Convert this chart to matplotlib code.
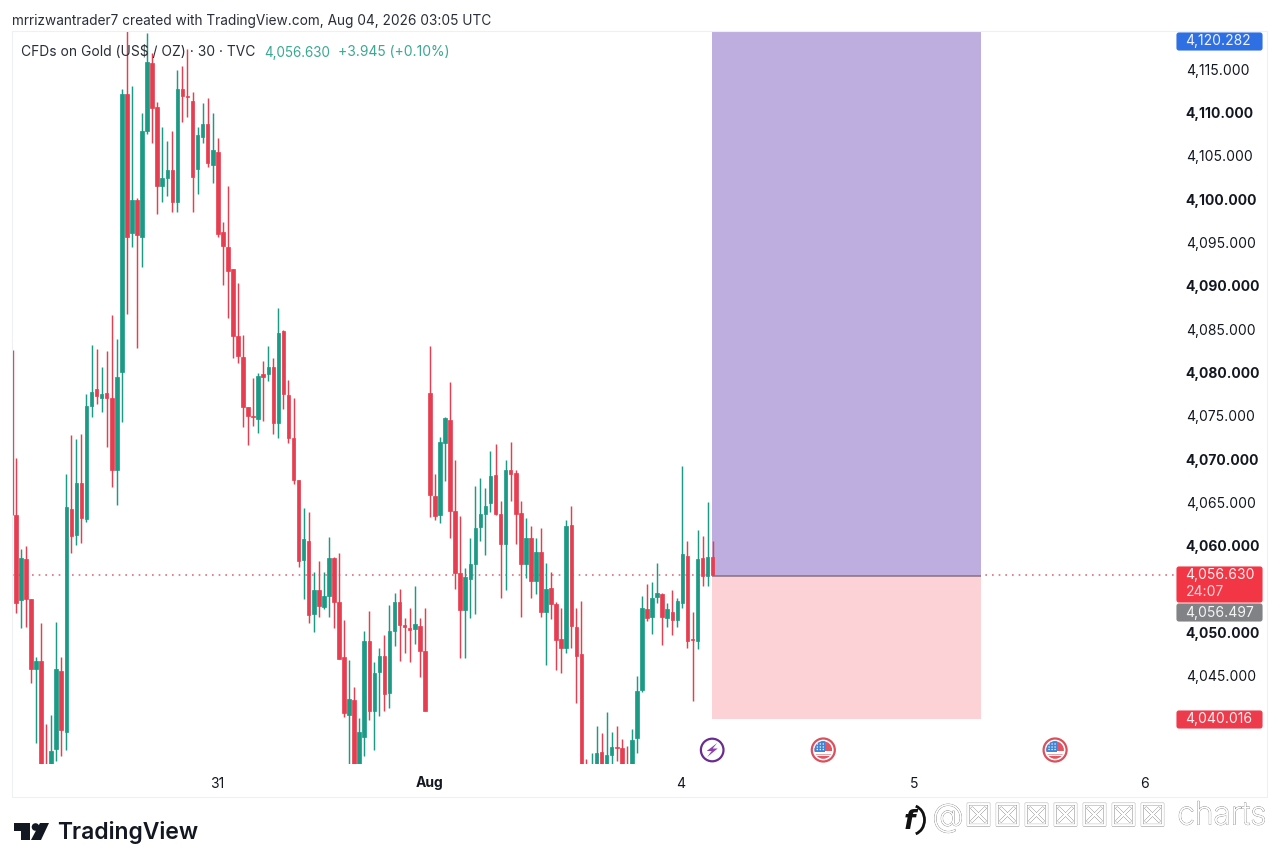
import matplotlib
matplotlib.use("Agg")
import matplotlib.pyplot as plt
import matplotlib.patheffects as pe
from matplotlib.patches import Circle, FancyBboxPatch, Polygon, Rectangle, Arc

# 30 minute candles, bar 0 is the first full bar on the left
opens = [4063.6, 4053.8, 4058.5, 4053.9, 4045.8, 4046.7, 4034.4, 4033.0, 4036.6, 4045.6,
         4038.5, 4064.3, 4061.3, 4067.3, 4063.1, 4076.1, 4078.1, 4077.1, 4077.6, 4077.1,
         4068.8, 4080.1, 4112.1, 4096.1, 4099.9, 4095.6, 4107.9, 4115.7, 4110.6, 4101.5,
         4102.4, 4103.4, 4099.7, 4112.7, 4111.9, 4111.3, 4103.5, 4107.2, 4108.7, 4103.9,
         4105.4, 4096.2, 4094.5, 4091.9, 4084.2, 4081.8, 4076.0, 4075.0, 4074.6, 4079.8,
         4079.8, 4080.6, 4074.2, 4084.8, 4077.4, 4072.4, 4067.6, 4058.4, 4060.6, 4052.1,
         4054.9, 4053.0, 4054.2, 4058.6, 4053.5, 4047.2, 4040.5, 4042.2, 4034.2, 4038.0,
         4049.0, 4041.0, 4045.5, 4047.3, 4043.0, 4050.2, 4053.5, 4050.9, 4050.5, 4050.4,
         4050.8, 4047.9, 4077.6, 4065.8, 4063.6, 4071.9, 4074.5, 4064.0, 4056.9, 4052.6,
         4056.2, 4057.9, 4062.2, 4063.7, 4064.9, 4068.2, 4063.7, 4060.2, 4068.8, 4068.4,
         4063.8, 4057.9, 4060.9, 4056.0, 4059.3, 4052.4, 4055.1, 4053.3, 4049.3, 4048.2,
         4062.4, 4050.6, 4047.5, 4034.4, 4033.0, 4034.2, 4036.2, 4034.2, 4035.9, 4036.8,
         4036.7, 4034.4, 4034.2, 4037.8, 4043.4, 4052.7, 4051.8, 4054.1, 4054.5, 4051.7,
         4052.4, 4051.5, 4053.4, 4058.8, 4049.3, 4049.0, 4058.6, 4056.5, 4058.7]
closes = [4053.4, 4058.6, 4053.9, 4045.8, 4046.7, 4033.6, 4033.0, 4036.3, 4045.8, 4038.8,
          4064.5, 4061.1, 4067.3, 4063.2, 4076.1, 4077.8, 4077.3, 4077.5, 4077.1, 4068.8,
          4079.5, 4112.1, 4095.6, 4099.9, 4095.9, 4107.9, 4115.8, 4110.5, 4101.5, 4102.4,
          4103.4, 4099.7, 4112.7, 4111.9, 4111.8, 4102.5, 4107.4, 4108.7, 4104.2, 4105.7,
          4096.0, 4094.6, 4091.7, 4084.2, 4081.9, 4076.0, 4075.0, 4074.9, 4079.6, 4079.5,
          4080.6, 4074.2, 4084.6, 4077.5, 4072.4, 4067.6, 4058.3, 4060.8, 4052.0, 4054.9,
          4053.1, 4054.2, 4058.6, 4053.5, 4047.0, 4040.7, 4042.3, 4034.2, 4038.5, 4049.0,
          4041.0, 4045.3, 4047.3, 4042.9, 4050.2, 4053.5, 4050.9, 4050.6, 4050.3, 4051.0,
          4047.9, 4041.0, 4065.9, 4063.5, 4072.0, 4074.8, 4064.0, 4056.9, 4052.6, 4056.4,
          4057.9, 4062.1, 4063.7, 4064.6, 4068.1, 4063.7, 4060.2, 4068.8, 4068.3, 4063.7,
          4057.9, 4060.9, 4056.0, 4059.3, 4052.4, 4055.0, 4053.3, 4049.1, 4048.2, 4062.3,
          4050.8, 4047.3, 4034.2, 4033.0, 4034.4, 4036.1, 4034.2, 4035.9, 4036.8, 4036.7,
          4034.2, 4033.0, 4037.6, 4043.3, 4052.8, 4051.7, 4054.0, 4054.6, 4051.8, 4052.7,
          4051.5, 4053.6, 4059.1, 4049.0, 4049.1, 4058.5, 4056.5, 4058.7, 4056.6]
highs = [4070.1, 4059.6, 4060.0, 4053.9, 4047.2, 4051.1, 4039.5, 4040.5, 4051.2, 4047.2,
         4068.3, 4072.8, 4072.3, 4072.9, 4077.5, 4083.2, 4082.7, 4080.6, 4082.5, 4086.6,
         4083.9, 4112.7, 4119.5, 4113.0, 4100.1, 4109.9, 4119.2, 4116.9, 4111.2, 4108.3,
         4106.7, 4107.9, 4114.9, 4115.4, 4117.3, 4112.4, 4108.3, 4111.1, 4111.7, 4109.9,
         4107.0, 4097.4, 4101.5, 4091.9, 4090.3, 4084.3, 4076.0, 4079.4, 4079.9, 4081.3,
         4083.1, 4081.7, 4087.4, 4084.9, 4079.1, 4077.1, 4067.6, 4064.4, 4063.9, 4057.0,
         4058.3, 4057.0, 4061.0, 4058.7, 4059.2, 4051.5, 4046.8, 4043.7, 4040.2, 4050.2,
         4052.5, 4046.6, 4048.2, 4049.7, 4053.2, 4054.6, 4055.0, 4051.7, 4052.8, 4055.4,
         4051.7, 4052.8, 4083.1, 4068.3, 4072.6, 4074.9, 4078.9, 4069.9, 4063.4, 4057.5,
         4060.9, 4066.9, 4067.8, 4066.7, 4070.9, 4071.8, 4065.2, 4069.9, 4072.0, 4068.8,
         4065.2, 4063.2, 4062.3, 4060.9, 4062.1, 4058.0, 4057.0, 4053.5, 4052.8, 4063.0,
         4064.6, 4052.8, 4053.6, 4035.4, 4036.1, 4039.2, 4038.4, 4040.8, 4038.5, 4039.2,
         4037.7, 4036.9, 4038.9, 4045.0, 4054.2, 4055.6, 4055.8, 4058.0, 4054.6, 4053.4,
         4054.9, 4054.0, 4069.2, 4060.6, 4052.4, 4061.8, 4061.1, 4065.1, 4060.6]
lows = [4052.3, 4050.5, 4050.6, 4044.2, 4037.3, 4033.6, 4033.0, 4033.0, 4035.2, 4035.8,
        4036.5, 4059.2, 4060.1, 4060.3, 4062.8, 4074.9, 4076.4, 4075.4, 4071.4, 4066.8,
        4064.7, 4074.3, 4086.7, 4094.5, 4082.8, 4092.2, 4107.5, 4106.5, 4098.3, 4099.7,
        4100.4, 4098.5, 4098.5, 4108.9, 4109.5, 4098.5, 4100.6, 4106.5, 4103.7, 4101.9,
        4095.6, 4090.1, 4086.3, 4081.7, 4081.1, 4073.7, 4071.6, 4073.8, 4073.0, 4074.4,
        4079.0, 4072.9, 4072.4, 4075.8, 4071.9, 4067.1, 4057.6, 4053.9, 4051.1, 4050.1,
        4051.8, 4052.7, 4051.8, 4050.5, 4047.0, 4040.3, 4034.2, 4034.2, 4034.2, 4035.8,
        4039.9, 4036.5, 4040.4, 4041.0, 4041.3, 4048.5, 4046.7, 4047.6, 4046.6, 4048.7,
        4044.9, 4041.0, 4063.3, 4063.0, 4062.6, 4067.5, 4060.9, 4055.0, 4047.1, 4047.1,
        4051.7, 4052.1, 4060.6, 4059.0, 4063.9, 4063.6, 4054.0, 4054.9, 4065.2, 4060.2,
        4051.8, 4056.3, 4054.0, 4054.5, 4051.8, 4046.3, 4051.6, 4045.7, 4045.3, 4047.6,
        4048.2, 4041.9, 4034.2, 4033.0, 4033.0, 4034.2, 4034.2, 4034.2, 4034.8, 4035.2,
        4034.2, 4033.0, 4034.2, 4036.1, 4043.1, 4051.3, 4049.8, 4053.4, 4048.6, 4050.6,
        4049.7, 4050.6, 4052.8, 4048.2, 4042.1, 4048.1, 4055.4, 4055.4, 4056.6]

# wick of a bar cut off by the left edge of the pane
cut_wick_bar = -0.55
cut_wick_high = 4082.6
cut_wick_low = 4063.6

# long position drawing
entry_price = 4056.497
target_price = 4120.282
stop_price = 4040.016
position_start = 137.9
position_end = 191.1

last_price = 4056.630

price_ticks = [4045, 4050, 4060, 4065, 4070, 4075, 4080, 4085, 4090, 4095, 4100, 4105, 4110, 4115]
date_ticks = [39.9, 82, 131.7, 177.8, 223.6]
date_labels = ["31", "Aug", "4", "5", "6"]
event_bars = [137.9, 159.9, 205.8]

green = "#1b9a85"
red = "#e63e50"
font = "Inter"

plt.rcParams["font.family"] = [font, "DejaVu Sans"]

fig = plt.figure(figsize=(12.8, 8.67), dpi=100, facecolor="white")
ax = fig.add_axes([12 / 1280, (867 - 764) / 867, (1176 - 12) / 1280, (764 - 32) / 867])
ax.set_xlim(-0.75, 229.74)
ax.set_ylim(4034.84, 4119.27)
ax.patch.set_alpha(0)
for s in ax.spines.values():
    s.set_visible(False)

# position tool
ax.axhline(last_price, color="#e0707e", lw=1.2, ls=(0, (1, 3)), zorder=1)
ax.add_patch(Rectangle((position_start, entry_price), position_end - position_start,
                       target_price - entry_price, color="#beaee0", lw=0, zorder=2))
ax.add_patch(Rectangle((position_start, stop_price), position_end - position_start,
                       entry_price - stop_price, color="#fdd2d6", lw=0, zorder=2))
ax.hlines(entry_price, position_start, position_end, color="#8b6f80", lw=1.1, zorder=3)

# candles
ax.vlines(cut_wick_bar, cut_wick_low, cut_wick_high, color=red, lw=1.0, zorder=4)
for i in range(len(opens)):
    col = green if closes[i] >= opens[i] else red
    ax.vlines(i, lows[i], highs[i], color=col, lw=1.05, zorder=4)
    ax.bar(i, abs(closes[i] - opens[i]), bottom=min(opens[i], closes[i]), width=0.7,
           color=col, edgecolor=col, lw=0.5, zorder=5)

# price scale
ax.yaxis.tick_right()
ax.set_yticks(price_ticks)
ax.set_yticklabels(["{:,.3f}".format(p) for p in price_ticks])
ax.tick_params(axis="y", length=0, pad=7, labelsize=10, labelcolor="#131722")
for p, lab in zip(price_ticks, ax.get_yticklabels()):
    if p % 10 == 0:
        lab.set_fontweight("bold")

# time scale
ax.set_xticks(date_ticks)
ax.set_xticklabels(date_labels)
ax.tick_params(axis="x", length=0, pad=9, labelsize=10, labelcolor="#131722")
ax.get_xticklabels()[1].set_fontweight("bold")

# overlay in picture pixels for tags, frame, icons and header
ov = fig.add_axes([0, 0, 1, 1], zorder=10)
ov.set_xlim(0, 1280)
ov.set_ylim(867, 0)
ov.axis("off")

ov.add_patch(Rectangle((12, 31), 1255, 766, fill=False, ec="#eef0f3", lw=0.8))


def tag(y0, y1, col, text, text_y=None, sub=None):
    ov.add_patch(FancyBboxPatch((1177, y0 + 1), 85, y1 - y0 - 2, boxstyle="round,pad=0,rounding_size=2",
                                fc=col, ec=col, lw=0.8, mutation_aspect=1))
    ov.text(1185.5, (y0 + y1) / 2 if text_y is None else text_y, text, color="white", fontsize=10,
            va="center", ha="left", alpha=0.92)
    if sub:
        ov.text(1185.5, sub[1], sub[0], color="#fbd5d8", fontsize=10, va="center", ha="left")


tag(32, 51, "#2f6fe4", "{:,.3f}".format(target_price))
tag(566, 603, "#f23645", "{:,.3f}".format(last_price), text_y=575.5, sub=("24:07", 592))
tag(603, 622, "#808285", "{:,.3f}".format(entry_price))
tag(710, 729, "#ee3b4c", "{:,.3f}".format(stop_price))

# header
ov.text(12, 21, "mrrizwantrader7 created with TradingView.com, Aug 04, 2026 03:05 UTC",
        fontsize=9.85, color="#2a2e39", va="center")
ov.text(21, 52.5, "CFDs on Gold (US$ / OZ) · 30 · TVC", fontsize=9.95, color="#2a2e39", va="center")
ov.text(264, 52.5, "4,056.630", fontsize=9.7, color="#3aa893", va="center")
ov.text(338, 52.5, "+3.945 (+0.10%)", fontsize=9.95, color="#3aa893", va="center")


# event icons on the bottom of the pane
def to_px(bar):
    return 15.8 + 5.05 * bar


def flag_icon(cx, cy):
    ov.add_patch(Circle((cx, cy), 11.5, fc="white", ec="#d9505c", lw=1.6))
    inner = Circle((cx, cy), 8.8, transform=ov.transData, fc="none", ec="none")
    ov.add_patch(inner)
    parts = [Rectangle((cx - 9, cy - 9), 18, 6.5, fc="#e25563", lw=0),
             Rectangle((cx - 9, cy - 2.5), 18, 3, fc="#e25563", lw=0),
             Rectangle((cx - 9, cy + 3.5), 18, 1.5, fc="#f0a0a8", lw=0),
             Rectangle((cx - 9, cy + 6), 18, 3, fc="#e25563", lw=0),
             Rectangle((cx - 9, cy - 9), 11, 10.5, fc="#3f86d8", lw=0)]
    for p in parts:
        ov.add_patch(p)
        p.set_clip_path(inner)
    for dx in (-6, -3, 0):
        for dy in (-6, -3, -0.5):
            ov.add_patch(Circle((cx + dx, cy + dy), 0.7, fc="white", lw=0))


ev_y = 750
cx = to_px(event_bars[0])
ov.add_patch(Circle((cx, ev_y), 11.3, fc="white", ec="#6a2c91", lw=1.6))
ov.add_patch(Polygon([(cx + 5, ev_y - 7), (cx - 5.5, ev_y + 1), (cx - 0.5, ev_y + 1), (cx - 5, ev_y + 7),
                      (cx + 5.5, ev_y - 1.5), (cx + 0.5, ev_y - 1.5)], fc="#8e3fb0", lw=0))
for b in event_bars[1:]:
    flag_icon(to_px(b), ev_y)

# TradingView logo
ov.add_patch(Polygon([(14, 823), (30, 823), (30, 840), (21, 840), (21, 831), (14, 831)], fc="#131722", lw=0))
ov.add_patch(Circle((35.5, 827), 3.8, fc="#131722", lw=0))
ov.add_patch(Polygon([(40, 823), (49, 823), (41, 840), (31, 840)], fc="#131722", lw=0))
ov.text(57, 832.5, "TradingView", fontsize=16.5, fontweight="semibold", color="#131722", va="center")

# watermark, embossed letters
emboss = [pe.withStroke(linewidth=0.7, foreground="#808080"), pe.Normal()]
ov.text(948, 818, "@", fontsize=23, color="white", ha="center", va="center", path_effects=emboss,
        fontweight="light")
for k in range(7):
    ov.text(978.5 + 29 * k, 817.5, "\u2612", family="DejaVu Sans", fontsize=22.5, color="white", ha="center",
            va="center", path_effects=emboss)
ov.text(1222, 816, "charts", fontsize=23, color="white", ha="center", va="center", path_effects=emboss,
        fontweight="light")
ov.text(909, 822, "f", family="DejaVu Sans", style="italic", fontweight="bold", fontsize=19, color="#111111",
        ha="center", va="center")
ov.add_patch(Arc((912, 820), 25, 29, theta1=-75, theta2=75, color="#111111", lw=2.0))

fig.savefig("out.png", dpi=100)
